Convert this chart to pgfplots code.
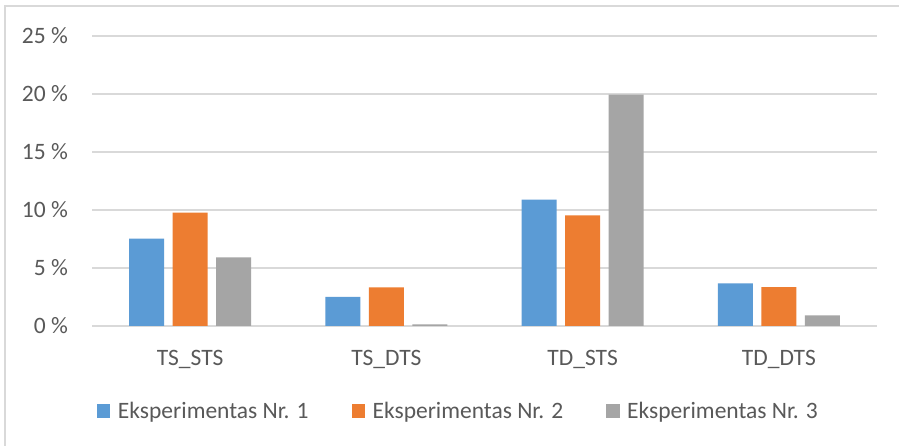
\documentclass[border=0pt]{standalone}
\usepackage{fontspec}
\setmainfont{Carlito}
\usepackage{pgfplots}
\pgfplotsset{compat=1.18}
\definecolor{c1}{HTML}{5B9BD5}
\definecolor{c2}{HTML}{ED7D31}
\definecolor{c3}{HTML}{A5A5A5}
\definecolor{gridc}{HTML}{D9D9D9}
\definecolor{txt}{HTML}{595959}
\begin{document}
\begin{tikzpicture}
\useasboundingbox (0bp,0bp) rectangle (899bp,446bp);
\clip (0bp,0bp) rectangle (899bp,446bp);
\fill[white] (0bp,0bp) rectangle (899bp,446bp);
\draw[gridc, line width=1.5bp] (5bp,-5bp) -- (5bp,440bp) -- (905bp,440bp);
\begin{axis}[
  at={(92bp,120bp)}, anchor=south west,
  scale only axis, width=785bp, height=290bp,
  xmin=-0.5, xmax=3.5, ymin=0, ymax=25,
  ybar=8.5bp, bar width=35bp,
  axis line style={draw=none},
  major tick length=0pt,
  ymajorgrids, grid style={gridc, line width=1.3bp},
  ytick={0,5,10,15,20,25},
  yticklabels={0 \%,5 \%,10 \%,15 \%,20 \%,25 \%},
  xtick={0,1,2,3},
  xticklabels={TS\_STS,TS\_DTS,TD\_STS,TD\_DTS},
  ticklabel style={font=\fontsize{23.5bp}{28bp}\selectfont, text=txt},
  yticklabel style={anchor=east, inner sep=0pt, xshift=-24bp},
  xticklabel style={anchor=base, inner sep=0pt, yshift=-39bp},
  legend columns=3,
  legend style={at={(axis description cs:0.00637,-0.293)}, anchor=west,
    draw=none, fill=none, inner sep=0pt, outer sep=0pt,
    font=\fontsize{23.5bp}{28bp}\selectfont, text=txt,
    nodes={inner sep=0pt},
    /tikz/every odd column/.append style={column sep=7.5bp},
    /tikz/every even column/.append style={column sep=43bp}},
  legend image code/.code={\fill[#1] (0bp,-6.75bp) rectangle (13.5bp,6.75bp);},
]
\addplot[fill=c1, draw=none] coordinates {(0,7.53) (1,2.51) (2,10.89) (3,3.68)};
\addplot[fill=c2, draw=none] coordinates {(0,9.77) (1,3.34) (2,9.54) (3,3.36)};
\addplot[fill=c3, draw=none] coordinates {(0,5.92) (1,0.15) (2,19.94) (3,0.92)};
\legend{Eksperimentas Nr. 1, Eksperimentas Nr. 2, Eksperimentas Nr. 3}
\end{axis}
\end{tikzpicture}
\end{document}
